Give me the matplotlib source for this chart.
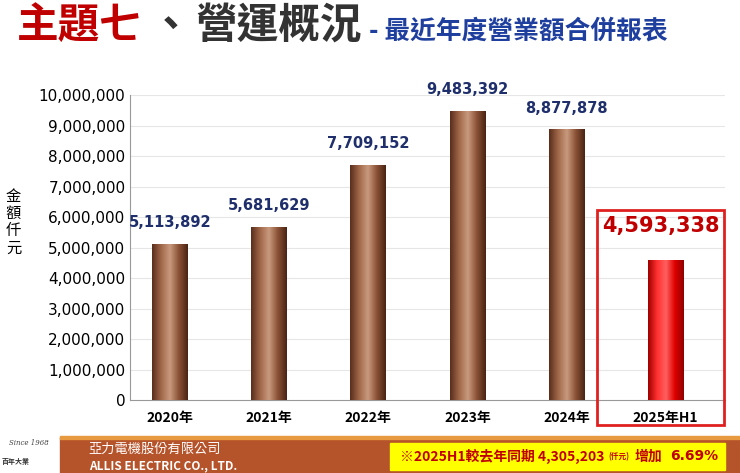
import matplotlib
matplotlib.use("Agg")
import matplotlib.pyplot as plt
import numpy as np
from matplotlib.patches import Rectangle
from matplotlib.colors import LinearSegmentedColormap

plt.rcParams['font.family'] = ['Noto Sans CJK TC', 'DejaVu Sans']

categories = ['2020年', '2021年', '2022年', '2023年', '2024年', '2025年H1']
values = [5113892, 5681629, 7709152, 9483392, 8877878, 4593338]
yticks = [0, 1000000, 2000000, 3000000, 4000000, 5000000, 6000000, 7000000, 8000000, 9000000, 10000000]

fig = plt.figure(figsize=(7.4, 4.73), dpi=100)
ax = fig.add_axes([0.176, 0.154, 0.804, 0.645])
x = np.arange(len(values))
w = 0.36
brown = LinearSegmentedColormap.from_list('b', ['#5a2e1c', '#a0674a', '#c99a7e', '#8a5236', '#4a2414'])
red = LinearSegmentedColormap.from_list('r', ['#a00000', '#ff3030', '#ff6060', '#e00000', '#900000'])
grad = np.linspace(0, 1, 100).reshape(1, -1)
for i, v in enumerate(values):
    b = ax.bar(x[i], v, width=w, color='#8a5236', zorder=2)[0]
    im = ax.imshow(grad, cmap=red if i == 5 else brown, aspect='auto',
                   extent=[x[i]-w/2, x[i]+w/2, 0, v], zorder=3)
    im.set_clip_path(b)
    if i < 5:
        ax.text(x[i], v + 450000, f'{v:,}', ha='center', va='bottom', fontsize=10.5,
                fontweight='bold', color='#1f2f6b', family='DejaVu Sans')
    else:
        ax.text(x[i] - 0.05, v + 800000, f'{v:,}', ha='center', va='bottom', fontsize=15,
                fontweight='bold', color='#c00000', family='DejaVu Sans')

ax.set_xlim(-0.4, 5.6)
ax.set_ylim(0, 10000000)
ax.set_yticks(yticks)
ax.set_yticklabels([f'{t:,}' for t in yticks], fontsize=11, family='DejaVu Sans')
ax.set_xticks(x)
ax.set_xticklabels(categories, fontsize=10, fontweight='bold')
ax.tick_params(axis='x', length=0, pad=8)
ax.tick_params(axis='y', length=0)
for t in yticks[1:]:
    ax.axhline(t, color='#e6e6e6', lw=0.8, zorder=0)
for s in ['top', 'right']:
    ax.spines[s].set_visible(False)
ax.spines['left'].set_color('#999999')
ax.spines['bottom'].set_color('#999999')

fig.text(0.008, 0.53, '金\n額\n仟\n元', fontsize=11, va='center', ha='left', linespacing=1.0)

# title
fig.text(17/740, 0.945, '主題七', fontsize=30, fontweight='bold', color='#c00000', va='center')
fig.text(150/740, 0.945, '、', fontsize=30, fontweight='bold', color='#333333', va='center')
fig.text(195/740, 0.945, '營運概況', fontsize=30, fontweight='bold', color='#333333', va='center')
fig.text(369/740, 0.935, '- 最近年度營業額合併報表', fontsize=18.5, fontweight='bold', style='italic',
         color='#1f3f9f', va='center')

# red highlight box
fig.patches.append(Rectangle((597/740, 1-425/473), 127/740, 215/473, transform=fig.transFigure,
                             fill=False, edgecolor='#e02020', lw=2))
# footer
fig.patches.append(Rectangle((60/740, 0), 680/740, 36/473, transform=fig.transFigure,
                             color='#b5532a', zorder=0))
fig.patches.append(Rectangle((60/740, 34/473), 680/740, 3/473, transform=fig.transFigure,
                             color='#e89a40', zorder=0))
fig.patches.append(Rectangle((390/740, 3/473), 335/740, 27/473, transform=fig.transFigure,
                             color='#ffff00', zorder=1))
fig.text(0.12, 0.05, '亞力電機股份有限公司', fontsize=9.5, style='italic', color='white', va='center')
fig.text(0.12, 0.016, 'ALLIS ELECTRIC CO., LTD.', fontsize=8.5, fontweight='bold', style='italic', color='white', va='center')
fig.text(0.54, 0.035, '※2025H1較去年同期 4,305,203', fontsize=10, fontweight='bold', color='#c00000', va='center')
fig.text(0.822, 0.035, '(仟元)', fontsize=5.5, fontweight='bold', color='#c00000', va='center')
fig.text(0.858, 0.035, '增加', fontsize=10, fontweight='bold', color='#c00000', va='center')
fig.text(0.905, 0.035, '6.69%', fontsize=10, fontweight='bold', color='#c00000', va='center',
         family='DejaVu Sans')
fig.text(0.012, 0.06, 'Since 1968', fontsize=5, style='italic', color='#444444', family='DejaVu Serif')
fig.text(0.002, 0.02, '百年大業', fontsize=5, fontweight='bold', color='#333333')
fig.savefig('out.png', dpi=100)
